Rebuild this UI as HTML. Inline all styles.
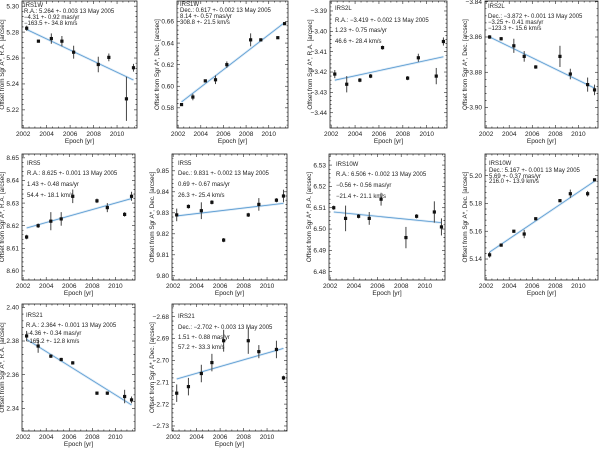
<!DOCTYPE html>
<html><head><meta charset="utf-8">
<style>
html,body{margin:0;padding:0;background:#fff;}
svg{display:block;font-family:"Liberation Sans",sans-serif;}
</style></head>
<body>
<svg id="chart" width="600" height="450" viewBox="0 0 600 450"></svg>
<script>
const epochs = [2002.3,2003.3,2004.4,2005.3,2006.3,2008.4,2009.3,2010.8,2011.4];
const xTicks = [2002,2004,2006,2008,2010];

const irs1wRA = [5.283,5.273,5.275,5.273,5.2645,5.255,5.2605,5.2285,5.2525];
const irs1wRAErr = [0.002,0.001,0.004,0.004,0.005,0.006,0.003,0.017,0.003];
const irs1wRAFit = [5.282,5.243];
const irs1wDec = [0.583,0.590,0.605,0.606,0.620,0.643,0.643,0.645,0.658];
const irs1wDecErr = [0.001,0.003,0.001,0.004,0.003,0.006,0.001,0.001,0.001];
const irs1wDecFit = [0.5855,0.659];
const irs2lRA = [-3.421,-3.426,-3.424,-3.422,-3.408,-3.423,-3.413,-3.422,-3.405];
const irs2lRAErr = [0.002,0.004,0.001,0.001,0.001,0.001,0.002,0.004,0.002];
const irs2lRAFit = [-3.424,-3.4125];
const irs2lDec = [-3.860,-3.861,-3.865,-3.871,-3.877,-3.871,-3.881,-3.887,-3.890];
const irs2lDecErr = [0.001,0.001,0.004,0.003,0.001,0.006,0.003,0.004,0.003];
const irs2lDecFit = [-3.860,-3.889];
const irs5RA = [8.615,8.620,8.622,8.623,8.633,8.631,8.628,8.625,8.633];
const irs5RAErr = [0.001,0.001,0.004,0.003,0.003,0.001,0.002,0.001,0.002];
const irs5RAFit = [8.619,8.632];
const irs5Dec = [9.829,9.833,9.831,9.835,9.817,9.829,9.834,9.836,9.838];
const irs5DecErr = [0.003,0.001,0.004,0.001,0.001,0.001,0.003,0.001,0.003];
const irs5DecFit = [9.8285,9.8345];
const irs10wRA = [6.510,6.505,6.506,6.505,6.514,6.496,6.506,6.508,6.501];
const irs10wRAErr = [0.001,0.006,0.001,0.003,0.003,0.005,0.001,0.005,0.004];
const irs10wRAFit = [6.508,6.503];
const irs10wDec = [5.143,5.150,5.160,5.158,5.169,5.182,5.187,5.187,5.197];
const irs10wDecErr = [0.002,0.001,0.001,0.003,0.001,0.001,0.003,0.002,0.001];
const irs10wDecFit = [5.145,5.196];
const irs21RA = [2.383,2.377,2.371,2.369,2.367,2.349,2.349,2.347,2.345];
const irs21RAErr = [0.003,0.004,0.001,0.001,0.001,0.001,0.001,0.004,0.002];
const irs21RAFit = [2.381,2.342];
const irs21Dec = [-2.715,-2.712,-2.706,-2.701,-2.691,-2.691,-2.696,-2.695,-2.708];
const irs21DecErr = [0.004,0.004,0.004,0.004,0.005,0.006,0.003,0.004,0.001];
const irs21DecFit = [-2.7085,-2.6945];

const tk1 = [5.22,5.24,5.26,5.28,5.30];
const tk2 = [0.58,0.60,0.62,0.64,0.66];
const tk3 = [-3.44,-3.43,-3.42,-3.41,-3.40,-3.39];
const tk4 = [-3.90,-3.88,-3.86,-3.84];
const tk5 = [8.60,8.61,8.62,8.63,8.64,8.65];
const tk6 = [9.80,9.81,9.82,9.83,9.84,9.85];
const tk7 = [6.48,6.49,6.50,6.51,6.52,6.53];
const tk8 = [5.14,5.16,5.18,5.20];
const tk9 = [2.34,2.36,2.38,2.40];
const tk10 = [-2.73,-2.72,-2.71,-2.70,-2.69,-2.68];

const txt1 = ["IRS1W","R.A.: 5.264 +- 0.003 13 May 2005","\u22124.31 +- 0.92 mas/yr","\u2212163.5 +- 34.8 km/s"];
const txt2 = ["IRS1W","Dec.: 0.617 +- 0.002 13 May 2005","8.14 +- 0.57 mas/yr","308.8 +- 21.5 km/s"];
const txt3 = ["IRS2L","R.A.: \u22123.419 +- 0.002 13 May 2005","1.23 +- 0.75 mas/yr","46.6 +- 28.4 km/s"];
const txt4 = ["IRS2L","Dec.: \u22123.872 +- 0.001 13 May 2005","\u22123.25 +- 0.41 mas/yr","\u2212123.3 +- 15.6 km/s"];
const txt5 = ["IRS5","R.A.: 8.625 +- 0.001 13 May 2005","1.43 +- 0.48 mas/yr","54.4 +- 18.1 km/s"];
const txt6 = ["IRS5","Dec.: 9.831 +- 0.002 13 May 2005","0.69 +- 0.67 mas/yr","26.3 +- 25.4 km/s"];
const txt7 = ["IRS10W","R.A.: 6.506 +- 0.002 13 May 2005","\u22120.56 +- 0.56 mas/yr","\u221221.4 +- 21.1 km/s"];
const txt8 = ["IRS10W","Dec.: 5.167 +- 0.001 13 May 2005","5.69 +- 0.37 mas/yr","216.0 +- 13.9 km/s"];
const txt9 = ["IRS21","R.A.: 2.364 +- 0.001 13 May 2005","\u22124.36 +- 0.34 mas/yr","\u2212165.2 +- 12.8 km/s"];
const txt10 = ["IRS21","Dec.: \u22122.702 +- 0.003 13 May 2005","1.51 +- 0.88 mas/yr","57.2 +- 33.3 km/s"];

const XMIN = 2001.9, XMAX = 2011.7;
const RA = "Offset from Sgr A*, R.A. [arcsec]", DE = "Offset from Sgr A*, Dec. [arcsec]";
const panels = [
 {id:"irs1w-ra",v:irs1wRA,e:irs1wRAErr,f:irs1wRAFit,tk:tk1,t:txt1,yt:RA,x0:22,x1:137,y0:1,y1:128,lo:5.206,hi:5.304,ty:[5,11,17,23],tx:24},
 {id:"irs1w-dec",v:irs1wDec,e:irs1wDecErr,f:irs1wDecFit,tk:tk2,t:txt2,yt:DE,x0:177,x1:288,y0:1,y1:128,lo:0.5613,hi:0.679,ty:[4,10,16,22],tx:180},
 {id:"irs2l-ra",v:irs2lRA,e:irs2lRAErr,f:irs2lRAFit,tk:tk3,t:txt3,yt:RA,x0:330,x1:447,y0:1,y1:128,lo:-3.4475,hi:-3.3851,ty:[8,20,30,41],tx:335},
 {id:"irs2l-dec",v:irs2lDec,e:irs2lDecErr,f:irs2lDecFit,tk:tk4,t:txt4,yt:DE,x0:485,x1:598,y0:1,y1:128,lo:-3.9116,hi:-3.8396,ty:[6,16,22,28],tx:488},
 {id:"irs5-ra",v:irs5RA,e:irs5RAErr,f:irs5RAFit,tk:tk5,t:txt5,yt:RA,x0:22,x1:135,y0:154,y1:280,lo:8.596,hi:8.6517,ty:[163,173,184,195],tx:27},
 {id:"irs5-dec",v:irs5Dec,e:irs5DecErr,f:irs5DecFit,tk:tk6,t:txt6,yt:DE,x0:172,x1:287,y0:154,y1:280,lo:9.798,hi:9.858,ty:[163,173,184,195],tx:178},
 {id:"irs10w-ra",v:irs10wRA,e:irs10wRAErr,f:irs10wRAFit,tk:tk7,t:txt7,yt:RA,x0:329,x1:445,y0:154,y1:280,lo:6.4761,hi:6.5352,ty:[164,174,185,196],tx:336},
 {id:"irs10w-dec",v:irs10wDec,e:irs10wDecErr,f:irs10wDecFit,tk:tk8,t:txt8,yt:DE,x0:485,x1:598,y0:154,y1:280,lo:5.1249,hi:5.2156,ty:[163,170,176,181],tx:489},
 {id:"irs21-ra",v:irs21RA,e:irs21RAErr,f:irs21RAFit,tk:tk9,t:txt9,yt:RA,x0:22,x1:135,y0:304,y1:431,lo:2.3265,hi:2.402,ty:[315,325,333,341],tx:26},
 {id:"irs21-dec",v:irs21Dec,e:irs21DecErr,f:irs21DecFit,tk:tk10,t:txt10,yt:DE,x0:172,x1:287,y0:304,y1:431,lo:-2.7323,hi:-2.6742,ty:[316,327,337,347],tx:178}
];

const NS = "http://www.w3.org/2000/svg";
const svg = document.getElementById("chart");
function mk(tag, attrs, parent){
  const el = document.createElementNS(NS, tag);
  for (const k in attrs) el.setAttribute(k, attrs[k]);
  (parent||svg).appendChild(el);
  return el;
}
function fmt(v){ const s = Math.abs(v).toFixed(2); return (v<0?"\u2212":"")+s; }

panels.forEach(p => {
  const g = mk("g", {});
  
  
  const sx = v => p.x0 + (v - XMIN) / (XMAX - XMIN) * (p.x1 - p.x0);
  const sy = v => p.y1 - (v - p.lo) / (p.hi - p.lo) * (p.y1 - p.y0);

  const box = mk("rect", {x:p.x0, y:p.y0, width:p.x1-p.x0, height:p.y1-p.y0, fill:"none", stroke:"#222", "stroke-width":0.8}, g);
  
  

  for (let yr = 2002; yr <= 2011.5; yr += 0.5) {
    const x = sx(yr), major = (yr % 2 === 0);
    const L = major ? 3 : 1.5;
    mk("line", {x1:x, x2:x, y1:p.y1, y2:p.y1-L, stroke:"#222","stroke-width":0.6}, g);
    mk("line", {x1:x, x2:x, y1:p.y0, y2:p.y0+L, stroke:"#222","stroke-width":0.6}, g);
  }
  xTicks.forEach(yr => {
    const t = mk("text", {x:sx(yr), y:p.y1+8, "font-size":6.5, "text-anchor":"middle", fill:"#222"}, g);
    t.textContent = yr;
    
    
  });
  const xt = mk("text", {x:(p.x0+p.x1)/2, y:p.y1+15, "font-size":6.5, "text-anchor":"middle", fill:"#222"}, g);
  xt.textContent = "Epoch [yr]";
  
  

  const step = p.tk[1] - p.tk[0];
  for (let i = 0; i < p.tk.length; i++) {
    const y = sy(p.tk[i]);
    mk("line", {x1:p.x0, x2:p.x0+3, y1:y, y2:y, stroke:"#222","stroke-width":0.6}, g);
    mk("line", {x1:p.x1, x2:p.x1-3, y1:y, y2:y, stroke:"#222","stroke-width":0.6}, g);
    for (let m = -4; m <= 4; m++) {
      const mv = p.tk[i] + m*step/5;
      const my = sy(mv);
      if (m === 0 || my < p.y0 || my > p.y1) continue;
      mk("line", {x1:p.x0, x2:p.x0+1.5, y1:my, y2:my, stroke:"#222","stroke-width":0.5}, g);
      mk("line", {x1:p.x1, x2:p.x1-1.5, y1:my, y2:my, stroke:"#222","stroke-width":0.5}, g);
    }
    const t = mk("text", {x:p.x0-3, y:y+2.2, "font-size":6.5, "text-anchor":"end", fill:"#222"}, g);
    t.textContent = fmt(p.tk[i]);
    
    
  }
  const cy = (p.y0+p.y1)/2, tx = p.x0 - 18;
  const yt = mk("text", {x:tx, y:cy, "font-size":6.3, "text-anchor":"middle", fill:"#222", transform:`rotate(-90 ${tx} ${cy})`}, g);
  yt.textContent = p.yt;
  
  

  const xa = sx(epochs[0]), xb = sx(epochs[epochs.length-1]);
  mk("line", {x1:xa, x2:xb, y1:sy(p.f[0]), y2:sy(p.f[1]), stroke:"#dbeaf6","stroke-width":2.4}, g);
  const fl = mk("line", {x1:xa, x2:xb, y1:sy(p.f[0]), y2:sy(p.f[1]), stroke:"#5a9bd2","stroke-width":0.8}, g);
  
  

  epochs.forEach((ep, i) => {
    const x = sx(ep), y = sy(p.v[i]);
    const eb = mk("line", {x1:x, x2:x, y1:sy(p.v[i]-p.e[i]), y2:sy(p.v[i]+p.e[i]), stroke:"#444","stroke-width":1}, g);
    
    
    const pt = mk("rect", {x:x-1.6, y:y-1.6, width:3.2, height:3.2, fill:"#111"}, g);
    
    
  });

  p.t.forEach((s, i) => {
    const t = mk("text", {x:p.tx, y:p.ty[i]+2, "font-size":6, fill:"#222"}, g);
    t.textContent = s;
    
    
  });
});
</script>
</body></html>
